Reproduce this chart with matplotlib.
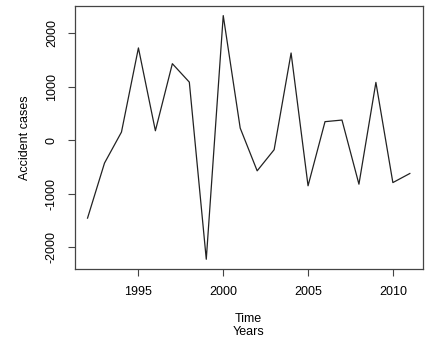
import numpy as np
import matplotlib
matplotlib.use("Agg")
import matplotlib.pyplot as plt

# yearly differenced accident cases
years = list(range(1992, 2012))
cases = [-1460, -430, 150, 1725, 175, 1430, 1085, -2230, 2330, 225,
         -575, -180, 1630, -855, 345, 375, -825, 1080, -795, -625]

xticks = [1995, 2000, 2005, 2010]
yticks = [-2000, -1000, 0, 1000, 2000]

plt.rcParams['font.family'] = ['Liberation Sans', 'DejaVu Sans']

fig = plt.figure(figsize=(4.34, 3.44), dpi=100)
ax = fig.add_axes([0.172, 0.218, 0.802, 0.765])

ax.plot(years, cases, color='#222222', linewidth=0.9)

# R style 4% padding
lo, hi = min(cases), max(cases)
pad = (hi - lo) * 0.04
ax.set_ylim(lo - pad, hi + pad)
xpad = (years[-1] - years[0]) * 0.04
ax.set_xlim(years[0] - xpad, years[-1] + xpad)

ax.set_xticks(xticks)
ax.set_yticks(yticks)
ax.set_yticklabels([str(v) for v in yticks], rotation=90, va='center')
ax.tick_params(direction='out', length=5, width=0.8, color='#444444',
               labelsize=9, pad=7)
for s in ax.spines.values():
    s.set_color('#444444')
    s.set_linewidth(0.9)

ax.set_xlabel('Time\nYears', fontsize=9, labelpad=11, linespacing=1.1)
ax.set_ylabel('Accident cases', fontsize=9, labelpad=11)

fig.savefig('out.png', dpi=100)
